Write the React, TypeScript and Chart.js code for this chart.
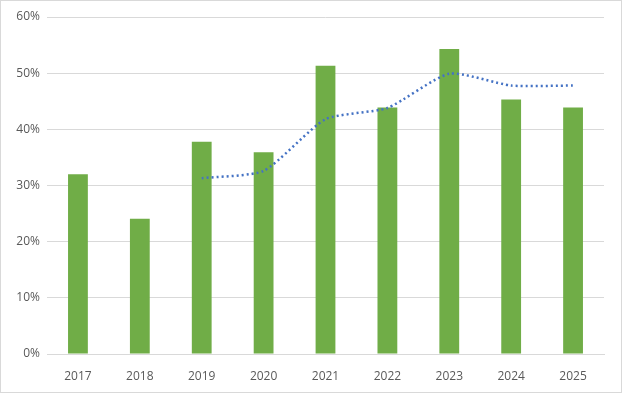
import React, { useEffect, useRef } from "react";
import { Chart, registerables } from "chart.js";

Chart.register(...registerables);

const years = ["2017", "2018", "2019", "2020", "2021", "2022", "2023", "2024", "2025"];
const barValues = [32.0, 24.1, 37.8, 35.9, 51.3, 43.9, 54.3, 45.3, 43.9];
const trendValues = [null, null, 31.3, 32.6, 41.8, 43.8, 49.9, 47.8, 47.8];
const yTicks = [0, 10, 20, 30, 40, 50, 60];

export default function App() {
  const ref = useRef<HTMLCanvasElement | null>(null);
  useEffect(() => {
    document.body.style.margin = "0";
    const ctx = ref.current!.getContext("2d")!;
    const chart = new Chart(ctx, {
      data: {
        labels: years,
        datasets: [
          {
            type: "line",
            data: trendValues,
            borderColor: "#4472C4",
            borderWidth: 2.5,
            borderDash: [2, 3],
            pointRadius: 0,
            fill: false,
            tension: 0.2,
            spanGaps: false,
            order: 0,
          } as any,
          {
            type: "bar",
            data: barValues,
            backgroundColor: "#70AD47",
            categoryPercentage: 1,
            barPercentage: 0.32,
            order: 1,
          } as any,
        ],
      },
      options: {
        responsive: false,
        animation: false,
        layout: { padding: { top: 17, right: 18, left: 0, bottom: 0 } },
        plugins: { legend: { display: false }, tooltip: { enabled: false } },
        scales: {
          x: {
            grid: { display: false, drawTicks: false },
            border: { display: true, color: "#D9D9D9", width: 1 },
            ticks: {
              color: "#595959",
              font: { family: "'Open Sans', 'DejaVu Sans', sans-serif", size: 12 },
              padding: 15,
            },
            afterFit: (s: any) => {
              s.height = 39;
            },
          },
          y: {
            min: 0,
            max: 60,
            afterBuildTicks: (s: any) => {
              s.ticks = yTicks.map((v) => ({ value: v }));
            },
            grid: { color: "#D9D9D9", lineWidth: 1, drawTicks: false },
            border: { display: false },
            ticks: {
              color: "#595959",
              font: { family: "'Open Sans', 'DejaVu Sans', sans-serif", size: 12 },
              padding: 7,
              callback: (v: any) => v + "%",
            },
            afterFit: (s: any) => {
              s.width = 47;
            },
          },
        },
      },
    });
    return () => chart.destroy();
  }, []);
  return (
    <div style={{ position: "absolute", left: 0, top: 0, width: 622, height: 393, background: "#fff" }}>
      <canvas ref={ref} width={622} height={393} style={{ display: "block" }} />
      <div
        style={{
          position: "absolute",
          left: 0,
          top: 0,
          width: 622,
          height: 393,
          boxSizing: "border-box",
          border: "1px solid #D9D9D9",
          pointerEvents: "none",
        }}
      />
    </div>
  );
}
